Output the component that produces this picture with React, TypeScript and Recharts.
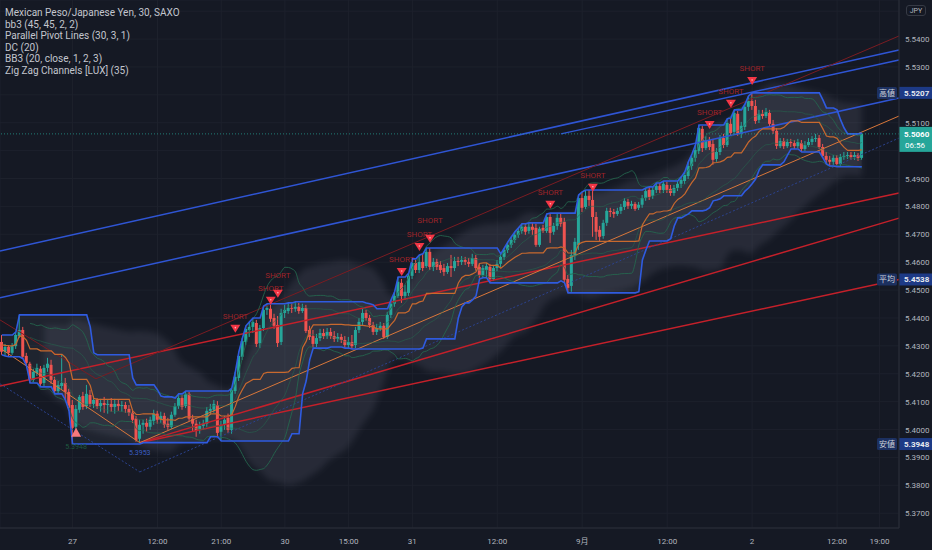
import React from 'react';
import {
  ComposedChart, Bar, Line, Area, XAxis, YAxis, CartesianGrid, ReferenceLine, ReferenceDot,
} from 'recharts';

// ---------- data: 30-minute candles [open, high, low, close] ----------
const ohlc: number[][] = [
  [5.4314,5.4339,5.4268,5.4279],[5.4279,5.4307,5.4264,5.4296],[5.4296,5.4303,5.4261,5.4275],[5.4275,5.4310,5.4268,5.4299],
  [5.4299,5.4350,5.4289,5.4339],[5.4335,5.4411,5.4328,5.4357],[5.4357,5.4368,5.4254,5.4261],[5.4264,5.4275,5.4228,5.4239],
  [5.4236,5.4243,5.4167,5.4178],[5.4178,5.4218,5.4171,5.4207],[5.4203,5.4236,5.4192,5.4221],[5.4218,5.4228,5.4153,5.4164],
  [5.4167,5.4232,5.4156,5.4221],[5.4221,5.4257,5.4207,5.4236],[5.4232,5.4250,5.4164,5.4178],[5.4178,5.4189,5.4128,5.4138],
  [5.4138,5.4174,5.4131,5.4160],[5.4156,5.4268,5.4142,5.4167],[5.4167,5.4185,5.4106,5.4135],[5.4135,5.4146,5.4067,5.4077],
  [5.4088,5.4106,5.3948,5.4006],[5.4010,5.4088,5.3999,5.4074],[5.4071,5.4124,5.4060,5.4117],[5.4120,5.4135,5.4071,5.4081],
  [5.4084,5.4160,5.4074,5.4128],[5.4124,5.4142,5.4081,5.4092],[5.4092,5.4120,5.4077,5.4106],[5.4106,5.4113,5.4074,5.4084],
  [5.4084,5.4110,5.4064,5.4095],[5.4095,5.4117,5.4060,5.4088],[5.4088,5.4106,5.4057,5.4092],[5.4092,5.4113,5.4064,5.4081],
  [5.4081,5.4110,5.4057,5.4092],[5.4092,5.4106,5.4067,5.4084],[5.4084,5.4102,5.4064,5.4088],[5.4088,5.4099,5.4060,5.4074],
  [5.4074,5.4088,5.4049,5.4060],[5.4060,5.4071,5.4024,5.4035],[5.4039,5.4049,5.3956,5.3963],[5.3967,5.4035,5.3953,5.4017],
  [5.4017,5.4035,5.3985,5.4024],[5.4024,5.4039,5.3992,5.4010],[5.4010,5.4046,5.3999,5.4035],[5.4031,5.4071,5.4017,5.4057],
  [5.4057,5.4067,5.4021,5.4035],[5.4035,5.4064,5.4024,5.4049],[5.4049,5.4060,5.4006,5.4017],[5.4021,5.4042,5.3999,5.4010],
  [5.4010,5.4064,5.4003,5.4053],[5.4053,5.4095,5.4046,5.4084],[5.4084,5.4128,5.4074,5.4113],[5.4113,5.4124,5.4071,5.4081],
  [5.4084,5.4138,5.4077,5.4128],[5.4128,5.4135,5.4031,5.4039],[5.4039,5.4053,5.3992,5.4021],[5.4021,5.4035,5.3974,5.3995],
  [5.3999,5.4028,5.3985,5.4013],[5.4013,5.4035,5.3999,5.4021],[5.4021,5.4081,5.4010,5.4067],[5.4067,5.4092,5.4053,5.4074],
  [5.4071,5.4106,5.4060,5.4092],[5.4088,5.4102,5.3977,5.3988],[5.3992,5.4031,5.3959,5.4017],[5.4017,5.4049,5.3999,5.4035],
  [5.4042,5.4057,5.3988,5.3999],[5.3999,5.4149,5.3985,5.4142],[5.4138,5.4207,5.4128,5.4189],[5.4185,5.4279,5.4174,5.4264],
  [5.4261,5.4328,5.4250,5.4317],[5.4314,5.4372,5.4303,5.4361],[5.4357,5.4386,5.4332,5.4368],[5.4368,5.4400,5.4346,5.4386],
  [5.4382,5.4393,5.4296,5.4307],[5.4310,5.4375,5.4292,5.4364],[5.4364,5.4443,5.4353,5.4429],[5.4429,5.4451,5.4411,5.4436],
  [5.4433,5.4447,5.4386,5.4397],[5.4400,5.4415,5.4361,5.4372],[5.4375,5.4407,5.4296,5.4310],[5.4314,5.4433,5.4303,5.4418],
  [5.4418,5.4447,5.4400,5.4429],[5.4425,5.4454,5.4415,5.4436],[5.4436,5.4451,5.4418,5.4433],[5.4433,5.4458,5.4422,5.4440],
  [5.4440,5.4454,5.4415,5.4425],[5.4425,5.4451,5.4418,5.4436],[5.4436,5.4447,5.4346,5.4353],[5.4357,5.4372,5.4321,5.4332],
  [5.4335,5.4357,5.4296,5.4307],[5.4307,5.4343,5.4296,5.4328],[5.4328,5.4361,5.4317,5.4346],[5.4346,5.4361,5.4325,5.4335],
  [5.4335,5.4364,5.4325,5.4350],[5.4350,5.4364,5.4325,5.4335],[5.4335,5.4353,5.4314,5.4325],[5.4325,5.4346,5.4314,5.4332],
  [5.4332,5.4343,5.4310,5.4321],[5.4321,5.4335,5.4292,5.4303],[5.4303,5.4332,5.4292,5.4314],[5.4314,5.4339,5.4289,5.4299],
  [5.4303,5.4368,5.4292,5.4357],[5.4357,5.4400,5.4346,5.4386],[5.4386,5.4433,5.4375,5.4418],[5.4418,5.4429,5.4390,5.4400],
  [5.4400,5.4411,5.4364,5.4375],[5.4375,5.4386,5.4339,5.4350],[5.4350,5.4379,5.4339,5.4364],[5.4364,5.4386,5.4353,5.4372],
  [5.4372,5.4382,5.4325,5.4332],[5.4332,5.4422,5.4325,5.4411],[5.4411,5.4465,5.4400,5.4451],[5.4451,5.4494,5.4440,5.4479],
  [5.4479,5.4547,5.4472,5.4530],[5.4526,5.4540,5.4454,5.4479],[5.4479,5.4519,5.4465,5.4494],[5.4490,5.4561,5.4479,5.4551],
  [5.4551,5.4612,5.4540,5.4597],[5.4597,5.4608,5.4561,5.4572],[5.4572,5.4626,5.4561,5.4601],[5.4601,5.4630,5.4568,5.4579],
  [5.4586,5.4651,5.4579,5.4637],[5.4637,5.4651,5.4572,5.4583],[5.4583,5.4615,5.4568,5.4601],[5.4601,5.4612,5.4572,5.4583],
  [5.4590,5.4604,5.4561,5.4572],[5.4579,5.4594,5.4551,5.4565],[5.4565,5.4597,5.4558,5.4586],[5.4586,5.4626,5.4547,5.4579],
  [5.4579,5.4619,5.4568,5.4604],[5.4604,5.4619,5.4586,5.4601],[5.4601,5.4622,5.4590,5.4608],[5.4608,5.4619,5.4590,5.4601],
  [5.4601,5.4615,5.4583,5.4594],[5.4594,5.4630,5.4586,5.4615],[5.4615,5.4626,5.4568,5.4579],[5.4583,5.4597,5.4544,5.4554],
  [5.4554,5.4590,5.4544,5.4579],[5.4572,5.4597,5.4547,5.4586],[5.4583,5.4594,5.4526,5.4540],[5.4540,5.4590,5.4533,5.4579],
  [5.4579,5.4608,5.4568,5.4594],[5.4594,5.4630,5.4583,5.4619],[5.4619,5.4651,5.4608,5.4644],[5.4644,5.4673,5.4633,5.4662],
  [5.4662,5.4691,5.4651,5.4680],[5.4680,5.4709,5.4669,5.4698],[5.4698,5.4723,5.4687,5.4712],[5.4712,5.4738,5.4702,5.4727],
  [5.4727,5.4738,5.4698,5.4709],[5.4712,5.4741,5.4702,5.4727],[5.4727,5.4741,5.4698,5.4716],[5.4723,5.4738,5.4655,5.4662],
  [5.4662,5.4727,5.4655,5.4720],[5.4723,5.4734,5.4705,5.4712],[5.4712,5.4773,5.4705,5.4762],[5.4762,5.4776,5.4669,5.4705],
  [5.4709,5.4741,5.4698,5.4730],[5.4730,5.4773,5.4716,5.4759],[5.4759,5.4776,5.4727,5.4738],[5.4745,5.4759,5.4526,5.4537],
  [5.4540,5.4554,5.4490,5.4508],[5.4515,5.4644,5.4494,5.4626],[5.4622,5.4687,5.4608,5.4673],[5.4662,5.4841,5.4644,5.4830],
  [5.4830,5.4852,5.4780,5.4795],[5.4798,5.4859,5.4791,5.4838],[5.4838,5.4859,5.4802,5.4823],[5.4823,5.4855,5.4691,5.4762],
  [5.4762,5.4780,5.4680,5.4709],[5.4716,5.4730,5.4676,5.4691],[5.4694,5.4752,5.4684,5.4741],[5.4741,5.4795,5.4730,5.4784],
  [5.4784,5.4795,5.4762,5.4780],[5.4780,5.4791,5.4759,5.4773],[5.4773,5.4795,5.4766,5.4784],[5.4784,5.4809,5.4773,5.4798],
  [5.4798,5.4830,5.4787,5.4820],[5.4816,5.4827,5.4791,5.4802],[5.4802,5.4820,5.4791,5.4809],[5.4809,5.4816,5.4784,5.4791],
  [5.4795,5.4816,5.4787,5.4806],[5.4806,5.4841,5.4795,5.4830],[5.4830,5.4866,5.4820,5.4855],[5.4859,5.4870,5.4823,5.4834],
  [5.4838,5.4870,5.4827,5.4859],[5.4859,5.4884,5.4848,5.4873],[5.4873,5.4884,5.4848,5.4859],[5.4859,5.4891,5.4848,5.4881],
  [5.4877,5.4888,5.4848,5.4859],[5.4863,5.4877,5.4838,5.4848],[5.4848,5.4877,5.4838,5.4866],[5.4866,5.4891,5.4855,5.4881],
  [5.4881,5.4906,5.4866,5.4895],[5.4891,5.4924,5.4881,5.4913],[5.4909,5.4960,5.4898,5.4945],[5.4945,5.4988,5.4931,5.4974],
  [5.4974,5.5020,5.4960,5.5002],[5.4999,5.5092,5.4988,5.5081],[5.5078,5.5088,5.4995,5.5009],[5.5009,5.5052,5.5002,5.5038],
  [5.5038,5.5049,5.5002,5.5013],[5.5024,5.5042,5.4949,5.4967],[5.4970,5.5009,5.4960,5.4995],[5.4995,5.5056,5.4984,5.5045],
  [5.5045,5.5060,5.5009,5.5020],[5.5020,5.5114,5.5013,5.5099],[5.5096,5.5117,5.5053,5.5063],[5.5067,5.5146,5.5056,5.5135],
  [5.5132,5.5142,5.5053,5.5063],[5.5060,5.5103,5.5045,5.5089],[5.5085,5.5167,5.5074,5.5157],[5.5157,5.5196,5.5142,5.5178],
  [5.5178,5.5207,5.5146,5.5160],[5.5160,5.5182,5.5096,5.5106],[5.5110,5.5146,5.5099,5.5132],[5.5132,5.5146,5.5114,5.5124],
  [5.5124,5.5153,5.5117,5.5139],[5.5135,5.5146,5.5085,5.5096],[5.5096,5.5110,5.5060,5.5071],[5.5071,5.5081,5.5006,5.5017],
  [5.5016,5.5045,5.5009,5.5034],[5.5034,5.5045,5.5006,5.5016],[5.5016,5.5042,5.5009,5.5031],[5.5031,5.5042,5.5013,5.5027],
  [5.5027,5.5038,5.5006,5.5016],[5.5016,5.5042,5.5009,5.5031],[5.5027,5.5038,5.4995,5.5006],[5.5006,5.5034,5.4999,5.5020],
  [5.5020,5.5045,5.5013,5.5031],[5.5031,5.5052,5.5020,5.5042],[5.5042,5.5060,5.5031,5.5045],[5.5045,5.5056,5.5006,5.5013],
  [5.5013,5.5024,5.4974,5.4981],[5.4981,5.4995,5.4952,5.4967],[5.4967,5.4981,5.4945,5.4960],[5.4960,5.4984,5.4949,5.4974],
  [5.4974,5.4984,5.4942,5.4952],[5.4952,5.4988,5.4945,5.4977],[5.4977,5.4995,5.4967,5.4981],[5.4981,5.4995,5.4970,5.4984],
  [5.4984,5.4995,5.4967,5.4977],[5.4977,5.4995,5.4967,5.4984],[5.4984,5.4991,5.4963,5.4974],[5.4974,5.5063,5.4967,5.5060],
];

// time axis: bar index of each label, and the label text
const timeTicks = [20, 44, 62, 80, 98, 116, 140, 164, 188, 212, 236, 248];
const timeLabels = ['27', '12:00', '21:00', '30', '15:00', '31', '12:00', '9月', '12:00', '2', '12:00', '19:00'];

// price axis ticks
const priceTicks = [5.37, 5.38, 5.39, 5.40, 5.41, 5.42, 5.43, 5.44, 5.45, 5.46, 5.47, 5.48, 5.49, 5.50, 5.51, 5.52, 5.53, 5.54, 5.55];

// parallel pivot / zig zag channel lines: [barFrom, priceFrom, barTo, priceTo]
const blueLines = [[-0.5, 5.4640, 253.5, 5.5361], [-0.5, 5.4472, 253.5, 5.5189], [158, 5.5060, 253.5, 5.5325]];
const redLines = [[-0.5, 5.4156, 253.5, 5.4848], [39, 5.3953, 253.5, 5.4758], [39, 5.3953, 253.5, 5.4538]];
const thinRedLines = [[-0.5, 5.4393, 26.6, 5.4182], [26.6, 5.4182, 253.5, 5.5411]];
const orangeLines = [[-0.5, 5.4292, 39, 5.3953], [39, 5.3953, 253.5, 5.5124]];
const navyLines = [[-0.5, 5.4164, 39, 5.3848], [39, 5.3848, 253.5, 5.5045]];

// signals: [bar, price of the marker tip]
const shortSignals = [[66, 5.4376], [76, 5.4476], [78, 5.4501], [113, 5.4579], [118, 5.4669], [121, 5.4698],
  [155, 5.4820], [167, 5.4881], [200, 5.5106], [206, 5.5182], [212, 5.5264]];
const longSignal = [21, 5.3974];

// right-axis tags
const highTag = { name: '高値', value: 5.5207 };
const avgTag = { name: '平均', value: 5.4538 };
const lowTag = { name: '安値', value: 5.3948 };
const lastPrice = 5.5060;
const countdown = '06:56';

const legendLines = [
  'Mexican Peso/Japanese Yen, 30, SAXO',
  'bb3 (45, 45, 2, 2)',
  'Parallel Pivot Lines (30, 3, 1)',
  'DC (20)',
  'BB3 (20, close, 1, 2, 3)',
  'Zig Zag Channels [LUX] (35)',
];

// ---------- indicator helpers ----------
const mean = (a: number[]) => a.reduce((s, v) => s + v, 0) / a.length;
const sd = (a: number[], m: number) => Math.sqrt(a.reduce((s, v) => s + (v - m) * (v - m), 0) / a.length);

function buildRows() {
  return ohlc.map(([o, h, l, c], i) => {
    const w20 = ohlc.slice(Math.max(0, i - 19), i + 1);
    const dcU = Math.max(...w20.map((b) => b[1]));
    const dcL = Math.min(...w20.map((b) => b[2]));
    const c20 = w20.map((b) => b[3]);
    const m20 = mean(c20);
    const s20 = sd(c20, m20);
    const c45 = ohlc.slice(Math.max(0, i - 44), i + 1).map((b) => b[3]);
    const m45 = mean(c45);
    const s45 = sd(c45, m45);
    const ok20 = i >= 8;
    const ok45 = i >= 12;
    return {
      i, o, h, l, c,
      range: [l, h],
      dcU, dcL, dcM: (dcU + dcL) / 2, dcR: [dcL, dcU],
      bbU1: ok20 ? m20 + s20 : null,
      bbL1: ok20 ? m20 - s20 : null,
      bbU2: ok20 ? m20 + 2 * s20 : null,
      bbL2: ok20 ? m20 - 2 * s20 : null,
      cloud: ok45 ? [m45 - 2.2 * s45, m45 + 2.2 * s45] : null,
    };
  });
}

const UP = '#26a69a';
const DOWN = '#ef5350';
const AXIS_TEXT = '#b2b5be';

const Candle = (props: any) => {
  const { x, y, width, height, payload } = props;
  if (!payload || payload.o == null) return null;
  const { o, h, l, c } = payload;
  const top = Math.min(y, y + height);
  const bottom = Math.max(y, y + height);
  const span = h - l || 1e-9;
  const py = (v: number) => top + ((h - v) / span) * (bottom - top);
  const color = c >= o ? UP : DOWN;
  const cx = x + width / 2;
  const bt = py(Math.max(o, c));
  const bb = py(Math.min(o, c));
  return (
    <g>
      <line x1={cx} x2={cx} y1={top} y2={bottom} stroke={color} strokeWidth={1} />
      <rect x={x} y={bt} width={width} height={Math.max(bb - bt, 0.9)} fill={color} />
    </g>
  );
};

const ShortMarker = (props: any) => {
  const { cx, cy, lift } = props;
  if (cx == null || cy == null) return null;
  return (
    <g>
      <text x={cx} y={cy - 6 - (lift || 0)} textAnchor="middle" fontSize={8} fill="#9c2429" fontFamily="Roboto, sans-serif">SHORT</text>
      <path d={`M${cx - 5},${cy} L${cx + 5},${cy} L${cx},${cy + 8} Z`} fill="#f23645" />
      <circle cx={cx} cy={cy + 3} r={0.8} fill="#ffb3b8" />
    </g>
  );
};

const LongMarker = (props: any) => {
  const { cx, cy } = props;
  if (cx == null || cy == null) return null;
  return (
    <g>
      <path d={`M${cx - 5},${cy} L${cx + 5},${cy} L${cx},${cy - 9} Z`} fill="#f7787c" />
      <text x={cx} y={cy + 12} textAnchor="middle" fontSize={7} fill="#1f5a40" fontFamily="Roboto, sans-serif">5.3948</text>
    </g>
  );
};

const PivotLabel = (props: any) => {
  const { cx, cy } = props;
  if (cx == null || cy == null) return null;
  return (
    <text x={cx} y={cy + 12} textAnchor="middle" fontSize={7} fill="#3b5fc4" fontFamily="Roboto, sans-serif">5.3953</text>
  );
};

const makeTag = (name: string, value: number) => (props: any) => {
  const vb = props.viewBox;
  if (!vb) return null;
  const x = vb.x + vb.width;
  const y = vb.y;
  return (
    <g>
      <rect x={x - 22} y={y - 6} width={20} height={12} rx={1.5} fill="#1c3060" />
      <text x={x - 12} y={y + 3} textAnchor="middle" fontSize={8} fill="#d1d4dc" fontFamily="'Noto Sans CJK JP', sans-serif">{name}</text>
      <rect x={x} y={y - 6} width={33} height={12} fill="#1d3a86" />
      <text x={x + 5} y={y + 3} fontSize={8} fontWeight={700} fill="#e8eaf0" fontFamily="Roboto, sans-serif">{value.toFixed(4)}</text>
    </g>
  );
};

const lastTag = (props: any) => {
  const vb = props.viewBox;
  if (!vb) return null;
  const x = vb.x + vb.width;
  const y = vb.y;
  return (
    <g>
      <rect x={x} y={y - 7} width={33} height={25} fill={UP} />
      <text x={x + 5} y={y + 3} fontSize={8} fontWeight={700} fill="#ffffff" fontFamily="Roboto, sans-serif">{lastPrice.toFixed(4)}</text>
      <text x={x + 6} y={y + 14} fontSize={8} fill="#ffffff" fontFamily="Roboto, sans-serif">{countdown}</text>
    </g>
  );
};

const hiddenPrices = [5.52, 5.50, 5.55];
const PriceTick = (p: any) => {
  const v = p.payload.value as number;
  if (hiddenPrices.some((h) => Math.abs(h - v) < 1e-6)) return null;
  return (
    <text x={p.x} y={p.y} dy={3} fill={AXIS_TEXT} fontSize={8} textAnchor="start" fontFamily="Roboto, sans-serif">{v.toFixed(4)}</text>
  );
};

const TimeTick = (p: any) => {
  const idx = timeTicks.indexOf(p.payload.value);
  return (
    <text x={p.x} y={p.y} dy={8} fill={AXIS_TEXT} fontSize={8} textAnchor="middle" fontFamily="Roboto, 'Noto Sans CJK JP', sans-serif">{idx >= 0 ? timeLabels[idx] : ''}</text>
  );
};

const seg = (l: number[]) => [{ x: l[0], y: l[1] }, { x: l[2], y: l[3] }];

const lineCommon = { dot: false, activeDot: false, isAnimationActive: false, legendType: 'none' as const };

export default function App() {
  const rows = buildRows();
  return (
    <div style={{ position: 'absolute', left: 0, top: 0, width: 932, height: 550, background: '#151924', overflow: 'hidden' }}>
      <ComposedChart width={932} height={550} data={rows} margin={{ top: 0, right: 0, bottom: 0, left: 0 }}>
        <defs>
          <filter id="soft" x="-5%" y="-10%" width="110%" height="120%">
            <feGaussianBlur stdDeviation="3" />
          </filter>
        </defs>
        <CartesianGrid stroke="#1d212c" />
        <XAxis
          type="number" dataKey="i" domain={[-0.5, 253.5]} allowDataOverflow ticks={timeTicks} interval={0}
          height={22} axisLine={{ stroke: '#2a2e39' }} tickLine={false} tick={<TimeTick />}
        />
        <YAxis
          orientation="right" type="number" domain={[5.3647, 5.554]} allowDataOverflow ticks={priceTicks} interval={0}
          width={33} axisLine={{ stroke: '#2a2e39' }} tickLine={false} tickSize={4} tickMargin={2} tick={<PriceTick />}
        />

        <Area dataKey="cloud" type="monotone" stroke="none" fill="#8a90a0" fillOpacity={0.15} filter="url(#soft)" connectNulls {...lineCommon} />
        <Area dataKey="dcR" type="linear" stroke="none" fill="#9aa0b0" fillOpacity={0.08} {...lineCommon} />

        {blueLines.map((l, k) => (
          <ReferenceLine key={'b' + k} segment={seg(l)} stroke="#2f55d4" strokeWidth={1.5} />
        ))}
        {redLines.map((l, k) => (
          <ReferenceLine key={'r' + k} segment={seg(l)} stroke="#c4202a" strokeWidth={1.5} />
        ))}
        {thinRedLines.map((l, k) => (
          <ReferenceLine key={'t' + k} segment={seg(l)} stroke="#7a1c22" strokeWidth={1} />
        ))}
        {orangeLines.map((l, k) => (
          <ReferenceLine key={'o' + k} segment={seg(l)} stroke="#d9773a" strokeWidth={1} />
        ))}
        {navyLines.map((l, k) => (
          <ReferenceLine key={'n' + k} segment={seg(l)} stroke="#2b428f" strokeWidth={1} strokeDasharray="2 2" />
        ))}

        <Line dataKey="bbU2" type="monotone" stroke="#24684f" strokeWidth={1} strokeOpacity={0.85} {...lineCommon} />
        <Line dataKey="bbL2" type="monotone" stroke="#24684f" strokeWidth={1} strokeOpacity={0.85} {...lineCommon} />
        <Line dataKey="bbU1" type="monotone" stroke="#24684f" strokeWidth={1} strokeOpacity={0.55} {...lineCommon} />
        <Line dataKey="bbL1" type="monotone" stroke="#24684f" strokeWidth={1} strokeOpacity={0.55} {...lineCommon} />

        <Line dataKey="dcM" type="linear" stroke="#c8692e" strokeWidth={1.2} {...lineCommon} />
        <Line dataKey="dcU" type="linear" stroke="#2f5be0" strokeWidth={1.6} {...lineCommon} />
        <Line dataKey="dcL" type="linear" stroke="#2f5be0" strokeWidth={1.6} {...lineCommon} />

        <Bar dataKey="range" barSize={3} shape={<Candle />} isAnimationActive={false} activeBar={false} />

        <ReferenceLine y={lastPrice} stroke={UP} strokeDasharray="1 2" strokeOpacity={0.7} label={lastTag} />
        <ReferenceLine y={highTag.value} stroke="none" label={makeTag(highTag.name, highTag.value)} />
        <ReferenceLine y={avgTag.value} stroke="none" label={makeTag(avgTag.name, avgTag.value)} />
        <ReferenceLine y={lowTag.value} stroke="none" label={makeTag(lowTag.name, lowTag.value)} />

        {shortSignals.map((s, k) => {
          const close = k > 0 && s[0] - shortSignals[k - 1][0] <= 3;
          return <ReferenceDot key={'s' + k} x={s[0]} y={s[1]} r={1} shape={<ShortMarker lift={close ? 6 : 0} />} />;
        })}
        <ReferenceDot x={longSignal[0]} y={longSignal[1]} r={1} shape={<LongMarker />} />
        <ReferenceDot x={39} y={5.3953} r={1} shape={<PivotLabel />} />
      </ComposedChart>

      <div style={{ position: 'absolute', left: 5, top: 7, fontFamily: 'Roboto, sans-serif', fontSize: 10, lineHeight: '11.6px', color: '#c3c6ce', pointerEvents: 'none' }}>
        {legendLines.map((t) => (
          <div key={t}>{t}</div>
        ))}
      </div>
      <div style={{ position: 'absolute', left: 906, top: 5, width: 20, height: 11, border: '1px solid #363a45', borderRadius: 3, background: '#151924', color: AXIS_TEXT, fontFamily: 'Roboto, sans-serif', fontSize: 7, lineHeight: '11px', textAlign: 'center', boxSizing: 'border-box' }}>
        JPY
      </div>
    </div>
  );
}
